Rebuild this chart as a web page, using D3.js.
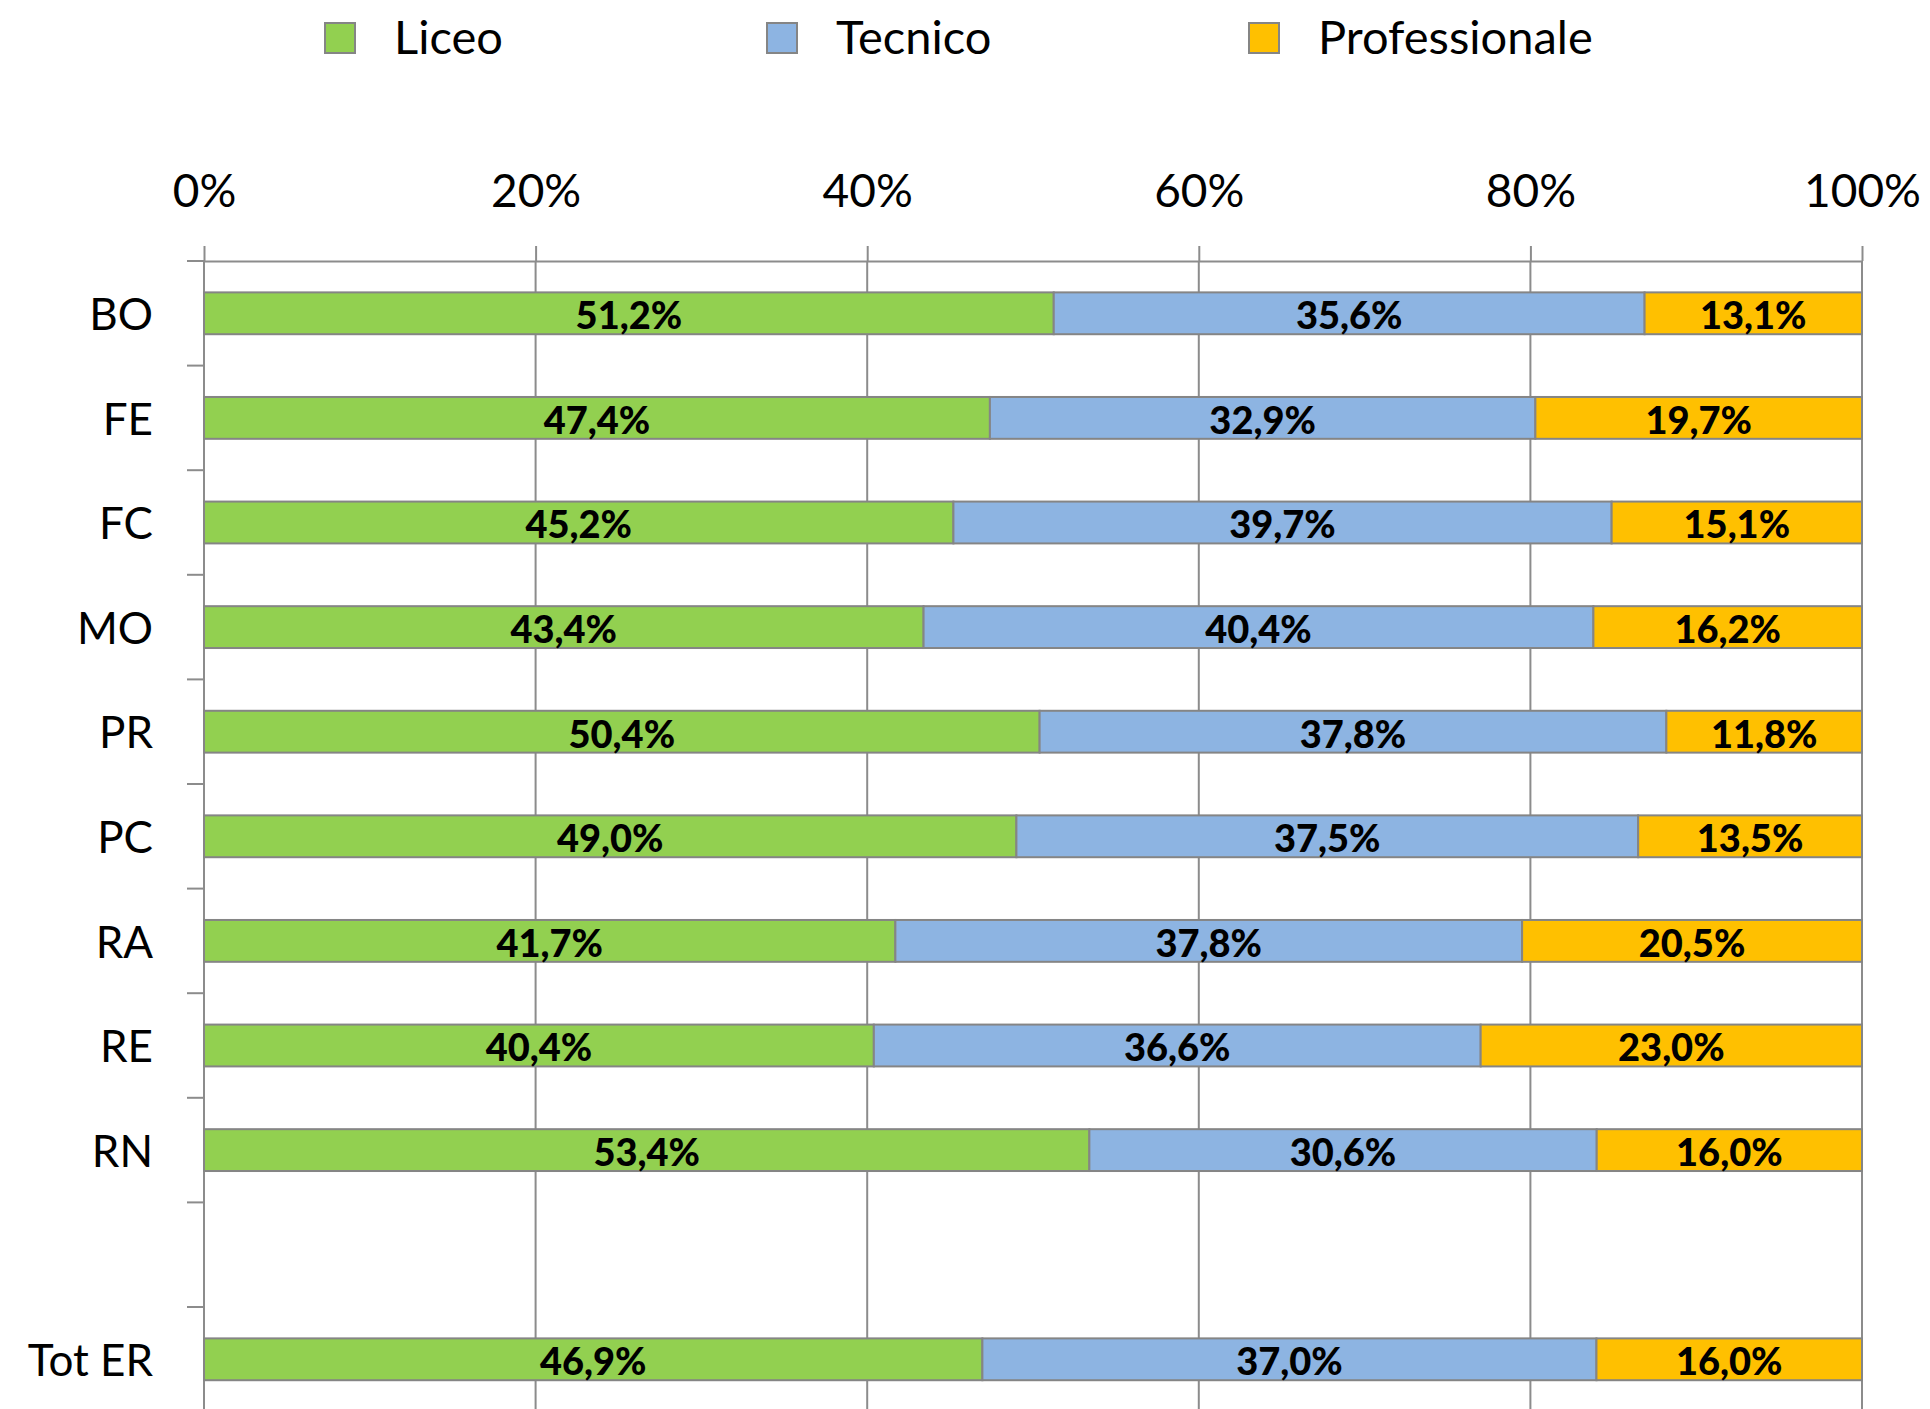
<!DOCTYPE html>
<html>
<head>
<meta charset="utf-8">
<script src="https://cdn.jsdelivr.net/npm/d3@7"></script>
<style>
  html, body { margin: 0; padding: 0; background: #fff; }
  svg text { font-family: Lato, "Open Sans", sans-serif; fill: #000; }
</style>
</head>
<body>
<svg id="chart" width="1930" height="1409"></svg>
<script>
// values as printed on the bars (percent)
var categories = ["BO", "FE", "FC", "MO", "PR", "PC", "RA", "RE", "RN", "Tot ER"];
var liceo = [51.2, 47.4, 45.2, 43.4, 50.4, 49.0, 41.7, 40.4, 53.4, 46.9];
var tecnico = [35.6, 32.9, 39.7, 40.4, 37.8, 37.5, 37.8, 36.6, 30.6, 37.0];
var professionale = [13.1, 19.7, 15.1, 16.2, 11.8, 13.5, 20.5, 23.0, 16.0, 16.0];
var seriesNames = ["Liceo", "Tecnico", "Professionale"];
var seriesColors = ["#92d050", "#8db4e2", "#ffc000"];
var xTicks = [0, 0.2, 0.4, 0.6, 0.8, 1];

var rows = categories.map(function(c, i) {
    return { cat: c, Liceo: liceo[i], Tecnico: tecnico[i], Professionale: professionale[i] };
});

// empty slot between RN and Tot ER
var slots = categories.slice(0, 9).concat(["_gap"], categories.slice(9));

var svg = d3.select("#chart");

var marginLeft = 204, marginRight = 1862, axisY = 261, step = 104.6;

var x = d3.scaleLinear().domain([0, 1]).range([marginLeft, marginRight]);
var y = d3.scaleBand()
    .domain(slots)
    .range([axisY, axisY + slots.length * step])
    .paddingInner(0.6)
    .paddingOuter(0.3);

var stack = d3.stack().keys(seriesNames).offset(d3.stackOffsetExpand);
var stacked = stack(rows);

// vertical gridlines
svg.append("g").selectAll("line")
    .data(xTicks)
  .enter().append("line")
    .attr("x1", function(d) { return x(d); })
    .attr("x2", function(d) { return x(d); })
    .attr("y1", axisY)
    .attr("y2", 1409)
    .attr("stroke", "#8c8c8c")
    .attr("stroke-width", 2);

// top axis
var xAxis = svg.append("g")
    .attr("transform", "translate(0," + axisY + ")")
    .call(d3.axisTop(x).tickValues(xTicks).tickSize(15).tickSizeOuter(0).tickPadding(39)
        .tickFormat(function(d) { return Math.round(d * 100) + "%"; }));
xAxis.select(".domain").attr("stroke", "#8c8c8c").attr("stroke-width", 2);
xAxis.selectAll(".tick line").attr("stroke", "#8c8c8c").attr("stroke-width", 2);
xAxis.selectAll(".tick text")
    .attr("font-size", 46)
    .style("font-family", "Lato, sans-serif")
    .attr("fill", "#000");

// left axis line + ticks at band boundaries
var boundaries = slots.map(function(s) { return y(s) - y.step() * y.paddingInner() / 2; });
var yAxis = svg.append("g");
yAxis.append("line")
    .attr("x1", marginLeft).attr("x2", marginLeft)
    .attr("y1", axisY).attr("y2", 1409)
    .attr("stroke", "#8c8c8c").attr("stroke-width", 2);
yAxis.selectAll("line.tick")
    .data(boundaries)
  .enter().append("line")
    .attr("class", "tick")
    .attr("x1", marginLeft - 17).attr("x2", marginLeft)
    .attr("y1", function(d) { return d; })
    .attr("y2", function(d) { return d; })
    .attr("stroke", "#8c8c8c").attr("stroke-width", 2);
yAxis.selectAll("text")
    .data(categories)
  .enter().append("text")
    .attr("x", 153)
    .attr("y", function(d) { return y(d) + y.bandwidth() / 2; })
    .attr("dy", "0.38em")
    .attr("text-anchor", "end")
    .attr("font-size", 44)
    .text(function(d) { return d; });

// bars
var layers = svg.append("g").selectAll("g.layer")
    .data(stacked)
  .enter().append("g")
    .attr("class", "layer")
    .attr("fill", function(d, i) { return seriesColors[i]; });

layers.selectAll("rect")
    .data(function(d) { return d; })
  .enter().append("rect")
    .attr("x", function(d) { return x(d[0]); })
    .attr("y", function(d) { return y(d.data.cat); })
    .attr("width", function(d) { return x(d[1]) - x(d[0]); })
    .attr("height", y.bandwidth())
    .attr("stroke", "#858585")
    .attr("stroke-width", 2);

// value labels
layers.each(function(layer) {
    d3.select(this).selectAll("text")
        .data(layer)
      .enter().append("text")
        .attr("x", function(d) { return (x(d[0]) + x(d[1])) / 2; })
        .attr("y", function(d) { return y(d.data.cat) + y.bandwidth() / 2; })
        .attr("dy", "0.42em")
        .attr("text-anchor", "middle")
        .attr("font-size", 38)
        .attr("font-weight", 900)
        .attr("fill", "#000")
        .text(function(d) { return d.data[layer.key].toFixed(1).replace(".", ",") + "%"; });
});

// legend
var legendX = [325, 767, 1249];
var legend = svg.append("g").selectAll("g")
    .data(seriesNames)
  .enter().append("g")
    .attr("transform", function(d, i) { return "translate(" + legendX[i] + ",23)"; });
legend.append("rect")
    .attr("width", 30).attr("height", 30)
    .attr("fill", function(d, i) { return seriesColors[i]; })
    .attr("stroke", "#858585")
    .attr("stroke-width", 2);
legend.append("text")
    .attr("x", 69)
    .attr("y", 14)
    .attr("dy", "0.36em")
    .attr("font-size", 47)
    .text(function(d) { return d; });
</script>
</body>
</html>
